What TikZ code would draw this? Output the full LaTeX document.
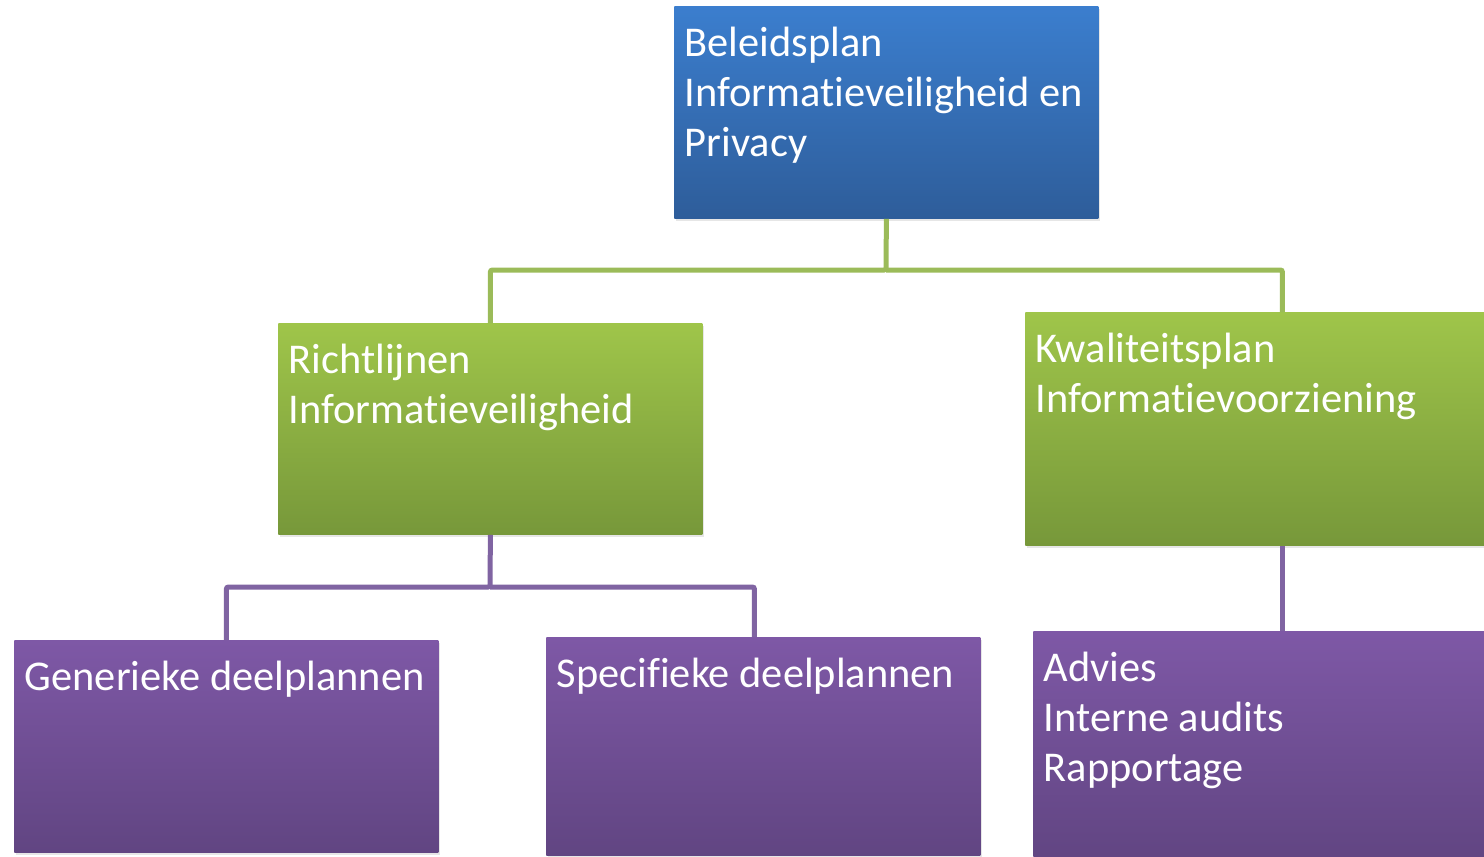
\documentclass[tikz,border=0pt]{standalone}
\usepackage{fontspec}
\setmainfont{Carlito}[Ligatures=NoCommon]
\usetikzlibrary{shadows}
\definecolor{bluetop}{RGB}{59,126,206}
\definecolor{bluebot}{RGB}{46,93,154}
\definecolor{greentop}{RGB}{159,197,74}
\definecolor{greenbot}{RGB}{119,152,58}
\definecolor{purpletop}{RGB}{126,88,166}
\definecolor{purplebot}{RGB}{97,69,130}
\definecolor{greenln}{RGB}{155,187,89}
\definecolor{purpleln}{RGB}{128,100,162}
\begin{document}
\begin{tikzpicture}[x=0.5pt, y=-0.5pt,
  box/.style={anchor=north west, inner xsep=5.2pt, inner ysep=7.6pt, text=white,
    font=\fontsize{21.2}{25}\selectfont, shading=axis,
    drop shadow={shadow xshift=1pt, shadow yshift=-1.5pt, opacity=0.2}},
  bluebox/.style={box, top color=bluetop, bottom color=bluebot},
  greenbox/.style={box, top color=greentop, bottom color=greenbot},
  purplebox/.style={box, top color=purpletop, bottom color=purplebot},
  greenline/.style={draw=greenln, line width=2.5pt, rounded corners=1pt},
  purpleline/.style={draw=purpleln, line width=2.5pt, rounded corners=1pt}]

\useasboundingbox (0,0) rectangle (1484,857);

\node[bluebox] (plan) at (674,6) {\parbox[t][90.8pt][t]{201.6pt}{\strut Beleidsplan\\Informatieveiligheid en\\Privacy}};
\node[greenbox] (richt) at (278,323) {\parbox[t][90.3pt][t]{201.6pt}{\strut Richtlijnen\\Informatieveiligheid}};
\node[greenbox] (kwal) at (1025,312) {\parbox[t][101.3pt][t]{246.6pt}{\strut Kwaliteitsplan\\Informatievoorziening}};
\node[purplebox] (gen) at (14,640) {\parbox[t][90.8pt][t]{201.6pt}{\strut Generieke deelplannen}};
\node[purplebox] (spec) at (546,637) {\parbox[t][93.8pt][t]{206.6pt}{\strut Specifieke deelplannen}};
\node[purplebox] (advies) at (1033,631) {\parbox[t][99.8pt][t]{238.6pt}{\strut Advies\\Interne audits\\Rapportage}};

\coordinate (gbar) at (886,270);
\draw[greenline] (plan.south) -- (gbar) -| (richt.north);
\draw[greenline] (gbar) -| (kwal.north);

\coordinate (pbar) at (490,587);
\draw[purpleline] (richt.south) -- (pbar) -| (gen.north);
\draw[purpleline] (pbar) -| ([xshift=-4.5pt]spec.north);
\draw[purpleline] (kwal.south) -- (advies.north);
\end{tikzpicture}
\end{document}
